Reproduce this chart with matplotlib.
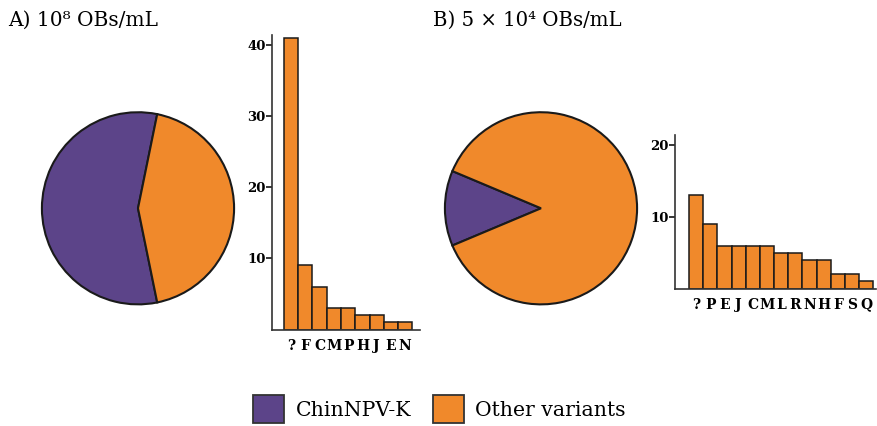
import matplotlib
matplotlib.use('Agg')
import matplotlib.pyplot as plt
from matplotlib.patches import Patch

plt.rcParams['font.family'] = ['DejaVu Serif']

purple = '#5c4489'
orange = '#f0892b'
edge = '#1a1a1a'

# pie counts (ChinNPV-K vs other variants)
pie_labels = ['ChinNPV-K', 'Other variants']
pie_a = [88, 68]
pie_b = [10, 69]

# variant frequencies among "other variants"
variants_a = ['?', 'F', 'C', 'M', 'P', 'H', 'J', 'E', 'N']
counts_a = [41, 9, 6, 3, 3, 2, 2, 1, 1]
variants_b = ['?', 'P', 'E', 'J', 'C', 'M', 'L', 'R', 'N', 'H', 'F', 'S', 'Q']
counts_b = [13, 9, 6, 6, 6, 6, 5, 5, 4, 4, 2, 2, 1]

W, H = 877, 426
fig = plt.figure(figsize=(W / 100, H / 100), dpi=100)


def px_axes(x0, y0, x1, y1):
    # pixel box (top-left origin) -> figure axes
    return fig.add_axes([x0 / W, (H - y1) / H, (x1 - x0) / W, (y1 - y0) / H])


def draw_pie(ax, vals):
    other_frac = vals[1] / sum(vals)
    ax.pie(vals, colors=[purple, orange], startangle=180 * other_frac,
           counterclock=True, radius=1,
           wedgeprops=dict(edgecolor=edge, linewidth=1.5))
    ax.set_xlim(-1.02, 1.02)
    ax.set_ylim(-1.02, 1.02)
    ax.set_aspect('equal')
    ax.axis('off')


def draw_bars(ax, names, vals, xlim, ylim, ticks):
    x = range(len(vals))
    ax.bar(x, vals, width=1, color=orange, edgecolor=edge, linewidth=1.1)
    ax.set_xlim(*xlim)
    ax.set_ylim(*ylim)
    ax.set_yticks(ticks)
    ax.set_xticks(list(x))
    ax.set_xticklabels(names, fontsize=10, fontweight='bold')
    ax.tick_params(axis='x', length=0, pad=6.5)
    ax.tick_params(axis='y', length=4, width=1.1, pad=0.5, labelsize=9.5)
    for lab in ax.get_yticklabels():
        lab.set_fontweight('bold')
    for s in ['top', 'right']:
        ax.spines[s].set_visible(False)
    for s in ['left', 'bottom']:
        ax.spines[s].set_linewidth(1.2)
        ax.spines[s].set_color('#333333')


ax1 = px_axes(40, 110.3, 236, 306.3)
draw_pie(ax1, pie_a)
ax2 = px_axes(442.5, 110.3, 639.5, 306.3)
draw_pie(ax2, pie_b)

ax3 = px_axes(272, 35, 420, 329.5)
draw_bars(ax3, variants_a, counts_a, (-1.34, 9.04), (0, 41.4), [10, 20, 30, 40])
ax4 = px_axes(675, 135, 876, 288.5)
draw_bars(ax4, variants_b, counts_b, (-1.49, 12.69), (0, 21.45), [10, 20])

fig.text(8 / W, (H - 26) / H, 'A) 10\u2078 OBs/mL', fontsize=14.5, va='baseline', ha='left')
fig.text(433 / W, (H - 26) / H, 'B) 5 \u00d7 10\u2074 OBs/mL', fontsize=14.2, va='baseline', ha='left')

handles = [Patch(facecolor=purple, edgecolor='#333333', linewidth=1.3),
           Patch(facecolor=orange, edgecolor='#333333', linewidth=1.3)]
fig.legend(handles, pie_labels, loc='center', bbox_to_anchor=(0.501, 0.04),
           ncol=2, frameon=False, fontsize=14.7, handlelength=1.55, handleheight=1.75,
           handletextpad=0.55, columnspacing=1.05, borderpad=0)

fig.savefig('out.png', dpi=100)
